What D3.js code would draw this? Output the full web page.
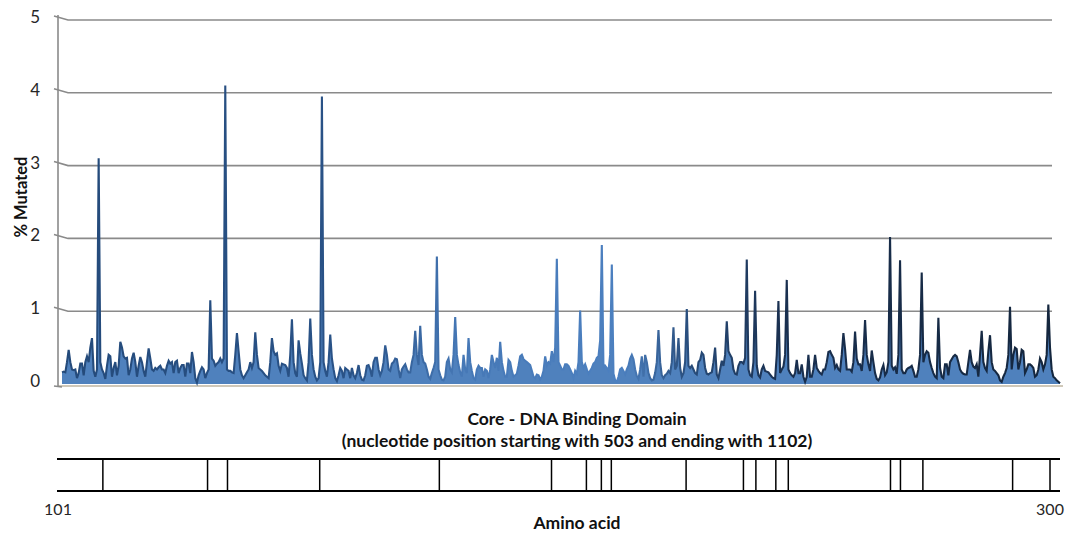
<!DOCTYPE html>
<html lang="en">
<head>
<meta charset="utf-8">
<title>% Mutated - Core DNA Binding Domain</title>
<script src="https://cdn.jsdelivr.net/npm/d3@7"></script>
<style>
    body { margin: 0; background: #fff; }
    svg { display: block; font-family: Lato, "Open Sans", sans-serif; }
    .tickText { font-size: 17px; fill: #262626; }
    .title { font-size: 17.5px; font-weight: bold; fill: #111; }
    .box line { stroke: #000; }
</style>
</head>
<body>
<script>
    // nucleotide positions covered by the chart
    var ntStart = 503, ntEnd = 1102;

    // % mutated per nucleotide, 100 values per block
    var pct503 = [0.16,0.17,0.16,0.3,0.47,0.3,0.2,0.19,0.2,0.08, 0.15,0.28,0.28,0.12,0.3,0.38,0.3,0.5,0.63,0.18,
        0.1,0.2,3.1,0.3,0.2,0.15,0.07,0.25,0.4,0.38, 0.1,0.22,0.3,0.12,0.25,0.58,0.5,0.38,0.35,0.36,
        0.12,0.2,0.35,0.43,0.3,0.1,0.25,0.37,0.3,0.18, 0.1,0.3,0.49,0.35,0.2,0.18,0.22,0.2,0.23,0.25,
        0.2,0.2,0.15,0.25,0.32,0.28,0.3,0.15,0.3,0.32, 0.15,0.22,0.26,0.26,0.1,0.28,0.28,0.15,0.44,0.3,
        0.08,0.02,0.12,0.18,0.23,0.2,0.08,0.15,0.2,1.15, 0.35,0.32,0.25,0.28,0.3,0.35,0.3,0.35,4.1,0.2];
    var pct603 = [0.18,0.18,0.16,0.15,0.4,0.7,0.45,0.2,0.12,0.08, 0.12,0.16,0.2,0.3,0.22,0.3,0.71,0.4,0.22,0.2,
        0.18,0.15,0.12,0.1,0.08,0.3,0.63,0.45,0.4,0.42, 0.25,0.18,0.28,0.27,0.26,0.22,0.1,0.4,0.89,0.3,
        0.15,0.1,0.6,0.42,0.28,0.12,0.08,0.05,0.3,0.9, 0.4,0.2,0.1,0.05,0.08,0.3,3.95,0.3,0.18,0.1,
        0.3,0.68,0.35,0.2,0.08,0.04,0.12,0.22,0.18,0.08, 0.22,0.2,0.18,0.08,0.22,0.12,0.08,0.15,0.26,0.12,
        0.06,0.05,0.12,0.25,0.26,0.2,0.1,0.3,0.36,0.36, 0.2,0.12,0.18,0.3,0.53,0.4,0.2,0.18,0.28,0.3];
    var pct703 = [0.35,0.34,0.2,0.08,0.2,0.24,0.27,0.2,0.16,0.16, 0.3,0.4,0.73,0.4,0.26,0.8,0.4,0.3,0.28,0.2,
        0.1,0.07,0.15,0.22,0.3,1.75,0.2,0.12,0.06,0.05, 0.1,0.3,0.35,0.2,0.16,0.4,0.92,0.4,0.26,0.16,
        0.1,0.4,0.2,0.15,0.63,0.3,0.18,0.08,0.06,0.2, 0.25,0.22,0.22,0.1,0.2,0.18,0.08,0.2,0.4,0.3,
        0.22,0.36,0.18,0.58,0.3,0.18,0.1,0.1,0.33,0.3, 0.18,0.1,0.12,0.14,0.25,0.38,0.4,0.34,0.32,0.3,
        0.28,0.26,0.18,0.1,0.08,0.13,0.12,0.06,0.1,0.18, 0.38,0.25,0.3,0.28,0.45,0.3,0.5,1.72,0.3,0.25];
    var pct803 = [0.2,0.2,0.27,0.27,0.25,0.2,0.15,0.08,0.18,0.14, 0.3,1.01,0.3,0.22,0.27,0.2,0.14,0.18,0.22,0.28,
        0.3,0.36,0.38,0.6,1.91,0.2,0.25,0.22,0.18,0.4, 1.64,0.14,0.05,0.03,0.1,0.2,0.22,0.18,0.13,0.2,
        0.25,0.35,0.4,0.34,0.2,0.11,0.07,0.2,0.38,0.1, 0.4,0.3,0.15,0.08,0.05,0.06,0.15,0.3,0.74,0.3,
        0.12,0.08,0.12,0.14,0.18,0.15,0.3,0.78,0.2,0.25, 0.63,0.22,0.1,0.15,0.3,1.03,0.25,0.22,0.25,0.2,
        0.15,0.13,0.3,0.33,0.43,0.4,0.22,0.14,0.13,0.15, 0.16,0.3,0.5,0.13,0.08,0.2,0.32,0.25,0.4,0.86];
    var pct903 = [0.45,0.4,0.36,0.2,0.14,0.13,0.25,0.3,0.3,0.28, 0.36,1.71,0.2,0.12,0.1,0.3,1.28,0.25,0.12,0.09,
        0.2,0.25,0.18,0.17,0.16,0.13,0.1,0.08,0.07,0.4, 1.14,0.15,0.2,0.24,0.4,1.43,0.2,0.15,0.12,0.1,
        0.15,0.33,0.15,0.15,0.27,0.1,0.03,0.1,0.4,0.1, 0.1,0.2,0.4,0.22,0.18,0.15,0.13,0.2,0.2,0.3,
        0.44,0.45,0.4,0.36,0.22,0.26,0.2,0.18,0.4,0.7, 0.48,0.2,0.2,0.2,0.17,0.3,0.72,0.35,0.27,0.27,
        0.18,0.4,0.88,0.4,0.27,0.18,0.46,0.3,0.15,0.07, 0.05,0.09,0.2,0.26,0.12,0.16,0.3,2.02,0.25,0.2];
    var pct1003 = [0.23,0.14,0.4,1.7,0.2,0.15,0.15,0.2,0.22,0.23, 0.25,0.18,0.1,0.1,0.2,0.4,1.53,0.3,0.4,0.45,
        0.43,0.3,0.22,0.15,0.1,0.08,0.91,0.22,0.1,0.08, 0.27,0.27,0.12,0.3,0.34,0.38,0.4,0.38,0.3,0.2,
        0.16,0.14,0.13,0.13,0.3,0.47,0.3,0.24,0.22,0.27, 0.1,0.4,0.73,0.3,0.22,0.18,0.45,0.67,0.3,0.2,
        0.18,0.15,0.12,0.05,0.03,0.1,0.15,0.22,0.4,1.06, 0.2,0.4,0.5,0.48,0.2,0.3,0.47,0.45,0.15,0.2,
        0.27,0.27,0.25,0.22,0.1,0.12,0.2,0.35,0.3,0.2, 0.27,0.4,1.09,0.5,0.2,0.1,0.08,0.05,0.03,0.01];

    var pctMutated = [].concat(pct503, pct603, pct703, pct803, pct903, pct1003);

    var yTicks = [0, 1, 2, 3, 4, 5];

    // amino acids marked in the domain bar below the chart
    var hotspotAA = [110, 131, 135, 153.5, 177.5, 200, 207, 210, 212, 227, 238.5, 241, 245, 247.5, 268, 270, 274.5, 292.5, 300];
    var aaEnds = [101, 300];

    var svg = d3.select("body").append("svg")
        .attr("width", 1070)
        .attr("height", 533);

    var x = d3.scaleLinear().domain([ntStart, ntEnd]).range([62, 1060]);
    var y = d3.scaleLinear().domain([0, 5]).range([384, 20]);
    var aa = d3.scaleLinear().domain(aaEnds).range([58, 1050]);

    // stroke colour changes along the series like the original
    var grad = svg.append("defs").append("linearGradient")
        .attr("id", "edge")
        .attr("gradientUnits", "userSpaceOnUse")
        .attr("x1", 62).attr("x2", 1060).attr("y1", 0).attr("y2", 0);
    [[0, "#244a7a"], [0.3, "#2a5388"], [0.4, "#4678b6"], [0.56, "#4c80c0"], [0.63, "#284c7a"], [0.72, "#1a3050"], [1, "#14263d"]]
        .forEach(function(s) {
            grad.append("stop").attr("offset", s[0]).attr("stop-color", s[1]);
        });

    // gridlines with the little bend into the axis
    svg.append("g").selectAll("polyline")
        .data(yTicks.filter(function(d) { return d > 0; }))
        .enter().append("polyline")
        .attr("points", function(d) {
            return [[54, y(d) - 4], [68, y(d)], [1052, y(d)]].join(" ");
        })
        .style("stroke", "#8a8a8a").style("stroke-width", 1.6).style("fill", "none");

    // floor under the area
    svg.append("line")
        .attr("x1", 58).attr("x2", 1063)
        .attr("y1", y(0) + 2).attr("y2", y(0) + 2)
        .style("stroke", "#cfc8b9").style("stroke-width", 2);

    // value axis
    svg.append("line")
        .attr("x1", 58).attr("x2", 58)
        .attr("y1", y(5) - 5).attr("y2", y(0) + 3)
        .style("stroke", "#8a8a8a").style("stroke-width", 1.6);
    svg.append("polyline")
        .attr("points", [[54, y(0) + 2], [62, y(0) + 3]].join(" "))
        .style("stroke", "#8a8a8a").style("stroke-width", 1.6).style("fill", "none");

    svg.append("g").selectAll("text")
        .data(yTicks)
        .enter().append("text")
        .attr("class", "tickText")
        .attr("x", 40)
        .attr("y", function(d) { return y(d) - 3; })
        .attr("dy", "0.35em")
        .style("text-anchor", "end")
        .text(function(d) { return d; });

    svg.append("text")
        .attr("class", "title")
        .attr("transform", "translate(21,197) rotate(-90)")
        .attr("dy", "0.35em")
        .style("text-anchor", "middle")
        .style("font-size", "16.5px")
        .text("% Mutated");

    // the series
    var area = d3.area()
        .x(function(d, i) { return x(ntStart + i); })
        .y0(y(0))
        .y1(function(d) { return y(d); });
    var line = d3.line()
        .x(function(d, i) { return x(ntStart + i); })
        .y(function(d) { return y(d); });

    svg.append("path")
        .datum(pctMutated)
        .attr("d", area)
        .style("fill", "#4f81bd");
    svg.append("path")
        .datum(pctMutated)
        .attr("d", line)
        .style("fill", "none")
        .style("stroke", "url(#edge)")
        .style("stroke-width", 2.1)
        .style("stroke-linejoin", "miter");

    // domain captions
    svg.append("text")
        .attr("class", "title")
        .attr("x", 577).attr("y", 419)
        .attr("dy", "0.35em")
        .style("text-anchor", "middle")
        .text("Core - DNA Binding Domain");
    svg.append("text")
        .attr("class", "title")
        .attr("x", 577).attr("y", 441)
        .attr("dy", "0.35em")
        .style("text-anchor", "middle")
        .text("(nucleotide position starting with 503 and ending with 1102)");

    // domain bar
    var box = svg.append("g").attr("class", "box");
    [459, 491].forEach(function(yy) {
        box.append("line")
            .attr("x1", 57).attr("x2", 1060)
            .attr("y1", yy).attr("y2", yy)
            .style("stroke-width", 2);
    });
    box.selectAll(".mark")
        .data(hotspotAA)
        .enter().append("line")
        .attr("x1", function(d) { return aa(d); })
        .attr("x2", function(d) { return aa(d); })
        .attr("y1", 459).attr("y2", 491)
        .style("stroke-width", 1.5);

    svg.append("g").selectAll("text")
        .data(aaEnds)
        .enter().append("text")
        .attr("class", "tickText")
        .attr("x", function(d) { return aa(d); })
        .attr("y", 509)
        .attr("dy", "0.35em")
        .style("text-anchor", "middle")
        .style("font-size", "16px")
        .text(function(d) { return d; });

    svg.append("text")
        .attr("class", "title")
        .attr("x", 577).attr("y", 523)
        .attr("dy", "0.35em")
        .style("text-anchor", "middle")
        .text("Amino acid");
</script>
</body>
</html>
